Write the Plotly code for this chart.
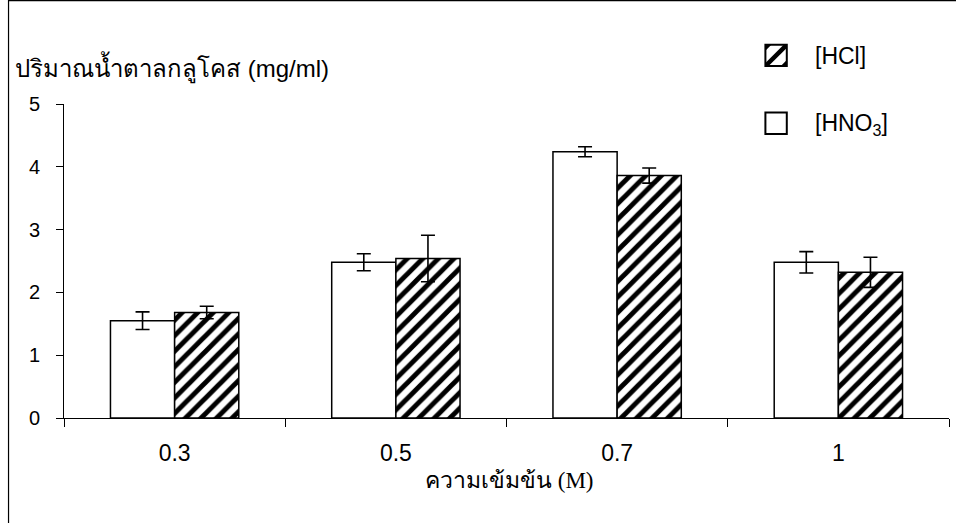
import plotly.graph_objects as go

# Glucose yield (mg/ml) for each acid concentration (M)
categories = ["0.3", "0.5", "0.7", "1"]
hno3_values = [1.55, 2.48, 4.24, 2.48]
hno3_errors = [0.14, 0.135, 0.08, 0.17]
hcl_values = [1.68, 2.54, 3.86, 2.32]
hcl_errors = [0.10, 0.37, 0.12, 0.24]
y_ticks = [0, 1, 2, 3, 4, 5]

W, H = 956, 523
L, R, T, B = 63.5, 949.0, 104.3, 418.3  # plot area in pixels


def px_x(p):
    return (p - L) / (R - L)


def px_y(p):
    return (B - p) / (B - T)


SANS = "Liberation Sans, Arial, sans-serif"
SERIF = "Liberation Serif, Times New Roman, serif"

fig = go.Figure()

fig.add_trace(go.Bar(
    name="[HNO3]",
    x=categories, y=hno3_values,
    marker=dict(color="white", line=dict(color="black", width=1.5)),
    error_y=dict(type="data", array=hno3_errors, color="black", thickness=1.6, width=7),
    showlegend=False,
))
fig.add_trace(go.Bar(
    name="[HCl]",
    x=categories, y=hcl_values,
    marker=dict(
        color="white",
        line=dict(color="black", width=1.5),
        pattern=dict(shape="/", fgcolor="black", fgopacity=1, bgcolor="white",
                     fillmode="replace", size=11, solidity=0.45),
    ),
    error_y=dict(type="data", array=hcl_errors, color="black", thickness=1.6, width=7),
    showlegend=False,
))

fig.update_layout(
    width=W, height=H, autosize=False,
    margin=dict(l=L, r=W - R, t=T, b=H - B, pad=0),
    paper_bgcolor="white", plot_bgcolor="white",
    barmode="group", bargap=0.42, bargroupgap=0.0,
    font=dict(family=SANS, size=20, color="black"),
)

fig.update_xaxes(
    type="category", showgrid=False, zeroline=False,
    showline=True, linecolor="black", linewidth=1,
    ticks="outside", tickson="boundaries", ticklen=8, tickcolor="black", tickwidth=1,
    tickfont=dict(family=SANS, size=23, color="black"),
    ticklabelstandoff=14,
)
fig.update_yaxes(
    range=[0, 5], tickvals=y_ticks, showgrid=False, zeroline=False,
    showline=True, linecolor="black", linewidth=1,
    ticks="outside", ticklen=7, tickcolor="black", tickwidth=1,
    tickfont=dict(family=SANS, size=20, color="black"),
    ticklabelstandoff=12,
)

shapes = []
# outer frame
shapes.append(dict(type="rect", xref="paper", yref="paper",
                   x0=px_x(8), x1=px_x(1000), y0=px_y(560), y1=px_y(1),
                   line=dict(color="black", width=1.2), fillcolor="rgba(0,0,0,0)"))

# legend key: hatched square for HCl
s = 21.4
x0, y0 = 765.3, 45.0


def path(points):
    d = "M " + " L ".join(f"{px_x(a):.5f},{px_y(b):.5f}" for a, b in points) + " Z"
    return dict(type="path", xref="paper", yref="paper", path=d,
                fillcolor="black", line=dict(width=0))


c = 6.0
shapes.append(path([(x0, y0), (x0 + c, y0), (x0, y0 + c)]))
shapes.append(path([(x0 + s, y0 + s), (x0 + s - c, y0 + s), (x0 + s, y0 + s - c)]))
o = 3.2
shapes.append(path([(x0, y0 + s - o), (x0 + s - o, y0), (x0 + s, y0), (x0 + s, y0 + o),
                    (x0 + o, y0 + s), (x0, y0 + s)]))
shapes.append(dict(type="rect", xref="paper", yref="paper",
                   x0=px_x(x0), x1=px_x(x0 + s), y0=px_y(y0 + s), y1=px_y(y0),
                   line=dict(color="black", width=2), fillcolor="rgba(0,0,0,0)"))
# legend key: plain square for HNO3
y1 = 112.8
shapes.append(dict(type="rect", xref="paper", yref="paper",
                   x0=px_x(x0), x1=px_x(x0 + s), y0=px_y(y1 + s), y1=px_y(y1),
                   line=dict(color="black", width=2), fillcolor="white"))
fig.update_layout(shapes=shapes)

annotations = [
    dict(text="[HCl]", x=px_x(813), y=px_y(56), xref="paper", yref="paper",
         xanchor="left", yanchor="middle", showarrow=False,
         font=dict(family=SANS, size=23, color="black")),
    dict(text="[HNO<sub>3</sub>]", x=px_x(813), y=px_y(125), xref="paper", yref="paper",
         xanchor="left", yanchor="middle", showarrow=False,
         font=dict(family=SANS, size=23, color="black")),
    dict(text="ปริมาณน้ำตาลกลูโคส (mg/ml)", x=px_x(12), y=px_y(68), xref="paper", yref="paper",
         xanchor="left", yanchor="middle", showarrow=False,
         font=dict(family=SANS, size=24, color="black")),
    dict(text="ความเข้มข้น (M)", x=px_x(509), y=px_y(481), xref="paper", yref="paper",
         xanchor="center", yanchor="middle", showarrow=False,
         font=dict(family=SERIF, size=23, color="black")),
]
fig.update_layout(annotations=annotations)

fig.write_html("out.html")
